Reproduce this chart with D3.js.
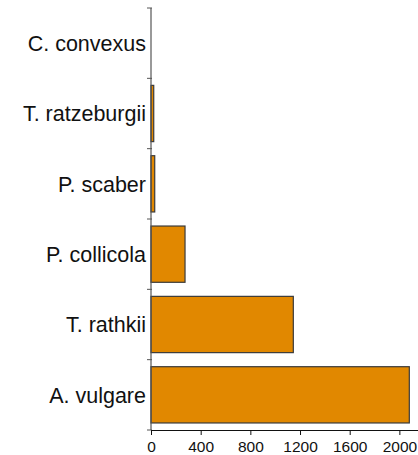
<!DOCTYPE html>
<html><head><meta charset="utf-8">
<script src="https://cdn.jsdelivr.net/npm/d3@7"></script>
<style>body{margin:0;background:#fff}svg{display:block}</style>
</head><body><svg id="c" width="418" height="455"></svg>
<script>
const categories = ["C. convexus","T. ratzeburgii","P. scaber","P. collicola","T. rathkii","A. vulgare"];
const values = [0, 22, 30, 274, 1146, 2080];
const xTicks = [0, 400, 800, 1200, 1600, 2000];

const svg = d3.select("#c");
const x = d3.scaleLinear().domain([0, 2150]).range([151, 418]);
const y = d3.scaleBand().domain(categories).range([8, 430]).paddingInner(0.2).paddingOuter(0.1);
const step = y.step(), off = (step - y.bandwidth())/2;
const bounds = categories.map(c => y(c) - off).concat([y(categories[categories.length-1]) - off + step]);

svg.selectAll("rect.bar").data(categories).join("rect")
  .attr("x", x(0)).attr("y", d => y(d))
  .attr("width", (d,i) => x(values[i]) - x(0))
  .attr("height", y.bandwidth())
  .attr("fill", "#E18800").attr("stroke", "#3a3a3a").attr("stroke-width", 1.2)
  .style("display", (d,i) => values[i] > 0 ? null : "none");

// y axis
svg.append("line").attr("x1", x(0)).attr("x2", x(0)).attr("y1", bounds[0]).attr("y2", bounds[bounds.length-1])
  .attr("stroke", "#555").attr("stroke-width", 1.2);
svg.selectAll("line.yt").data(bounds).join("line")
  .attr("x1", x(0)-4).attr("x2", x(0)+1).attr("y1", d=>d).attr("y2", d=>d)
  .attr("stroke", "#555").attr("stroke-width", 1);
svg.selectAll("text.cat").data(categories).join("text")
  .attr("x", 146).attr("y", d => y(d) + y.bandwidth()/2)
  .attr("dy", "0.36em").attr("text-anchor", "end")
  .attr("font-family", "Liberation Sans, Arial, sans-serif").attr("font-size", 21.5)
  .attr("fill", "#111").text(d => d);

// x axis
const xa = svg.append("g").attr("transform", `translate(0,${bounds[bounds.length-1]})`)
  .call(d3.axisBottom(x).tickValues(xTicks).tickFormat(d3.format("d")).tickSize(5).tickSizeOuter(0).tickPadding(6));
xa.select(".domain").attr("stroke", "#111").attr("stroke-width", 1.2);
xa.selectAll(".tick line").attr("stroke", "#111");
xa.selectAll("text").attr("font-family", "Liberation Sans, Arial, sans-serif").attr("font-size", 15.5).attr("fill", "#111");
</script></body></html>
